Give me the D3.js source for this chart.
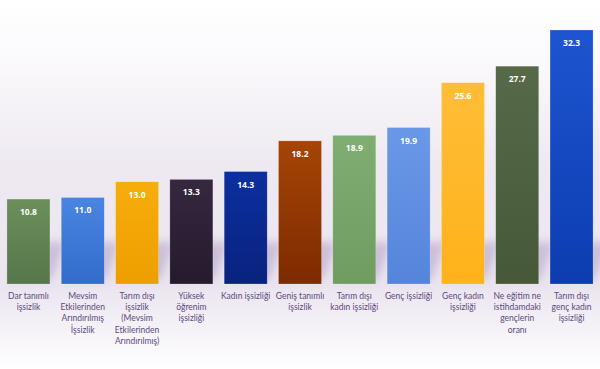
<!DOCTYPE html>
<html>
<head>
<meta charset="utf-8">
<script src="https://cdn.jsdelivr.net/npm/d3@7"></script>
<style>
  body { margin: 0; }
  svg { display: block; font-family: Lato, "Open Sans", sans-serif; }
  .lbl { fill: #5b4a80; font-size: 8.5px; }
  .val { fill: #fff; font-size: 8.5px; font-weight: bold; font-family: "Open Sans", sans-serif; }
</style>
</head>
<body>
<div id="chart"></div>
<script>
var categories = [
  ["Dar tanımlı", "işsizlik"],
  ["Mevsim", "Etkilerinden", "Arındırılmış", "İşsizlik"],
  ["Tarım dışı", "işsizlik", "(Mevsim", "Etkilerinden", "Arındırılmış)"],
  ["Yüksek", "öğrenim", "işsizliği"],
  ["Kadın işsizliği"],
  ["Geniş tanımlı", "işsizlik"],
  ["Tarım dışı", "kadın işsizliği"],
  ["Genç işsizliği"],
  ["Genç kadın", "işsizliği"],
  ["Ne eğitim ne", "istihdamdaki", "gençlerin", "oranı"],
  ["Tarım dışı", "genç kadın", "işsizliği"]
];
var values = [10.8, 11.0, 13.0, 13.3, 14.3, 18.2, 18.9, 19.9, 25.6, 27.7, 32.3];
var colorsTop = ["#6a8f5c", "#4a85e2", "#f7ad0c", "#35283f", "#0c2fa0", "#a54506", "#80ad70", "#6a98e8", "#ffbd38", "#566a48", "#1d55d0"];
var colorsBot = ["#56774a", "#336ccc", "#ee9f00", "#261a2e", "#08237e", "#7e2a00", "#6f9c60", "#5585da", "#ffb21a", "#465838", "#0d3cb0"];

var W = 600, H = 369, base = 284;

var svg = d3.select("#chart").append("svg")
    .attr("width", W)
    .attr("height", H);

var defs = svg.append("defs");

var bg = defs.append("linearGradient")
    .attr("id", "bg").attr("x1", 0).attr("y1", 0).attr("x2", 0).attr("y2", 1);
bg.append("stop").attr("offset", "0%").attr("stop-color", "#ffffff");
bg.append("stop").attr("offset", "15%").attr("stop-color", "#fbfafc");
bg.append("stop").attr("offset", "45%").attr("stop-color", "#eee9f1");
bg.append("stop").attr("offset", "78%").attr("stop-color", "#ebe5ef");
bg.append("stop").attr("offset", "100%").attr("stop-color", "#ffffff");

defs.append("filter").attr("id", "blur")
    .attr("x", "-50%").attr("y", "-50%").attr("width", "200%").attr("height", "200%")
  .append("feGaussianBlur").attr("stdDeviation", 4);

values.forEach(function(v, i) {
  var g = defs.append("linearGradient")
      .attr("id", "bar" + i).attr("x1", 0).attr("y1", 0).attr("x2", 0).attr("y2", 1);
  g.append("stop").attr("offset", "0%").attr("stop-color", colorsTop[i]);
  g.append("stop").attr("offset", "100%").attr("stop-color", colorsBot[i]);
});

svg.append("rect").attr("width", W).attr("height", H).attr("fill", "url(#bg)");

var x = d3.scaleBand()
    .domain(d3.range(values.length))
    .range([1.3, 598.7])
    .paddingInner(0.208)
    .paddingOuter(0.104);

var y = d3.scaleLinear()
    .domain([0, 32.3])
    .range([base, 30]);

// soft purple shadows behind bars
svg.append("g")
    .attr("filter", "url(#blur)")
  .selectAll("path")
  .data(values)
  .enter().append("path")
    .attr("fill", "rgba(130, 100, 165, 0.3)")
    .attr("d", function(d, i) {
      var x0 = x(i), x1 = x(i) + x.bandwidth();
      return "M" + (x0 + 4) + "," + (base - 4) +
             "L" + (x1 + 2) + "," + (base - 4) +
             "L" + (x1 + 16) + "," + (base - 42) +
             "L" + (x0 + 18) + "," + (base - 42) + "Z";
    });

svg.append("g")
  .selectAll("rect")
  .data(values)
  .enter().append("rect")
    .attr("x", function(d, i) { return x(i); })
    .attr("y", function(d) { return y(d); })
    .attr("width", x.bandwidth())
    .attr("height", function(d) { return base - y(d); })
    .attr("fill", function(d, i) { return "url(#bar" + i + ")"; })
    .attr("stroke", "rgba(255,255,255,0.35)")
    .attr("stroke-width", 0.6);

svg.append("g")
  .selectAll("text")
  .data(values)
  .enter().append("text")
    .attr("class", "val")
    .attr("x", function(d, i) { return x(i) + x.bandwidth() / 2; })
    .attr("y", function(d) { return y(d) + 16; })
    .attr("text-anchor", "middle")
    .text(function(d) { return d.toFixed(1); });

var lbl = svg.append("g")
  .selectAll("text")
  .data(categories)
  .enter().append("text")
    .attr("class", "lbl")
    .attr("text-anchor", "middle")
    .attr("x", function(d, i) { return x(i) + x.bandwidth() / 2; })
    .attr("y", 299);

lbl.selectAll("tspan")
  .data(function(d) { return d; })
  .enter().append("tspan")
    .attr("x", function() { return d3.select(this.parentNode).attr("x"); })
    .attr("dy", function(d, j) { return j ? 11.2 : 0; })
    .text(function(d) { return d; });
</script>
</body>
</html>
